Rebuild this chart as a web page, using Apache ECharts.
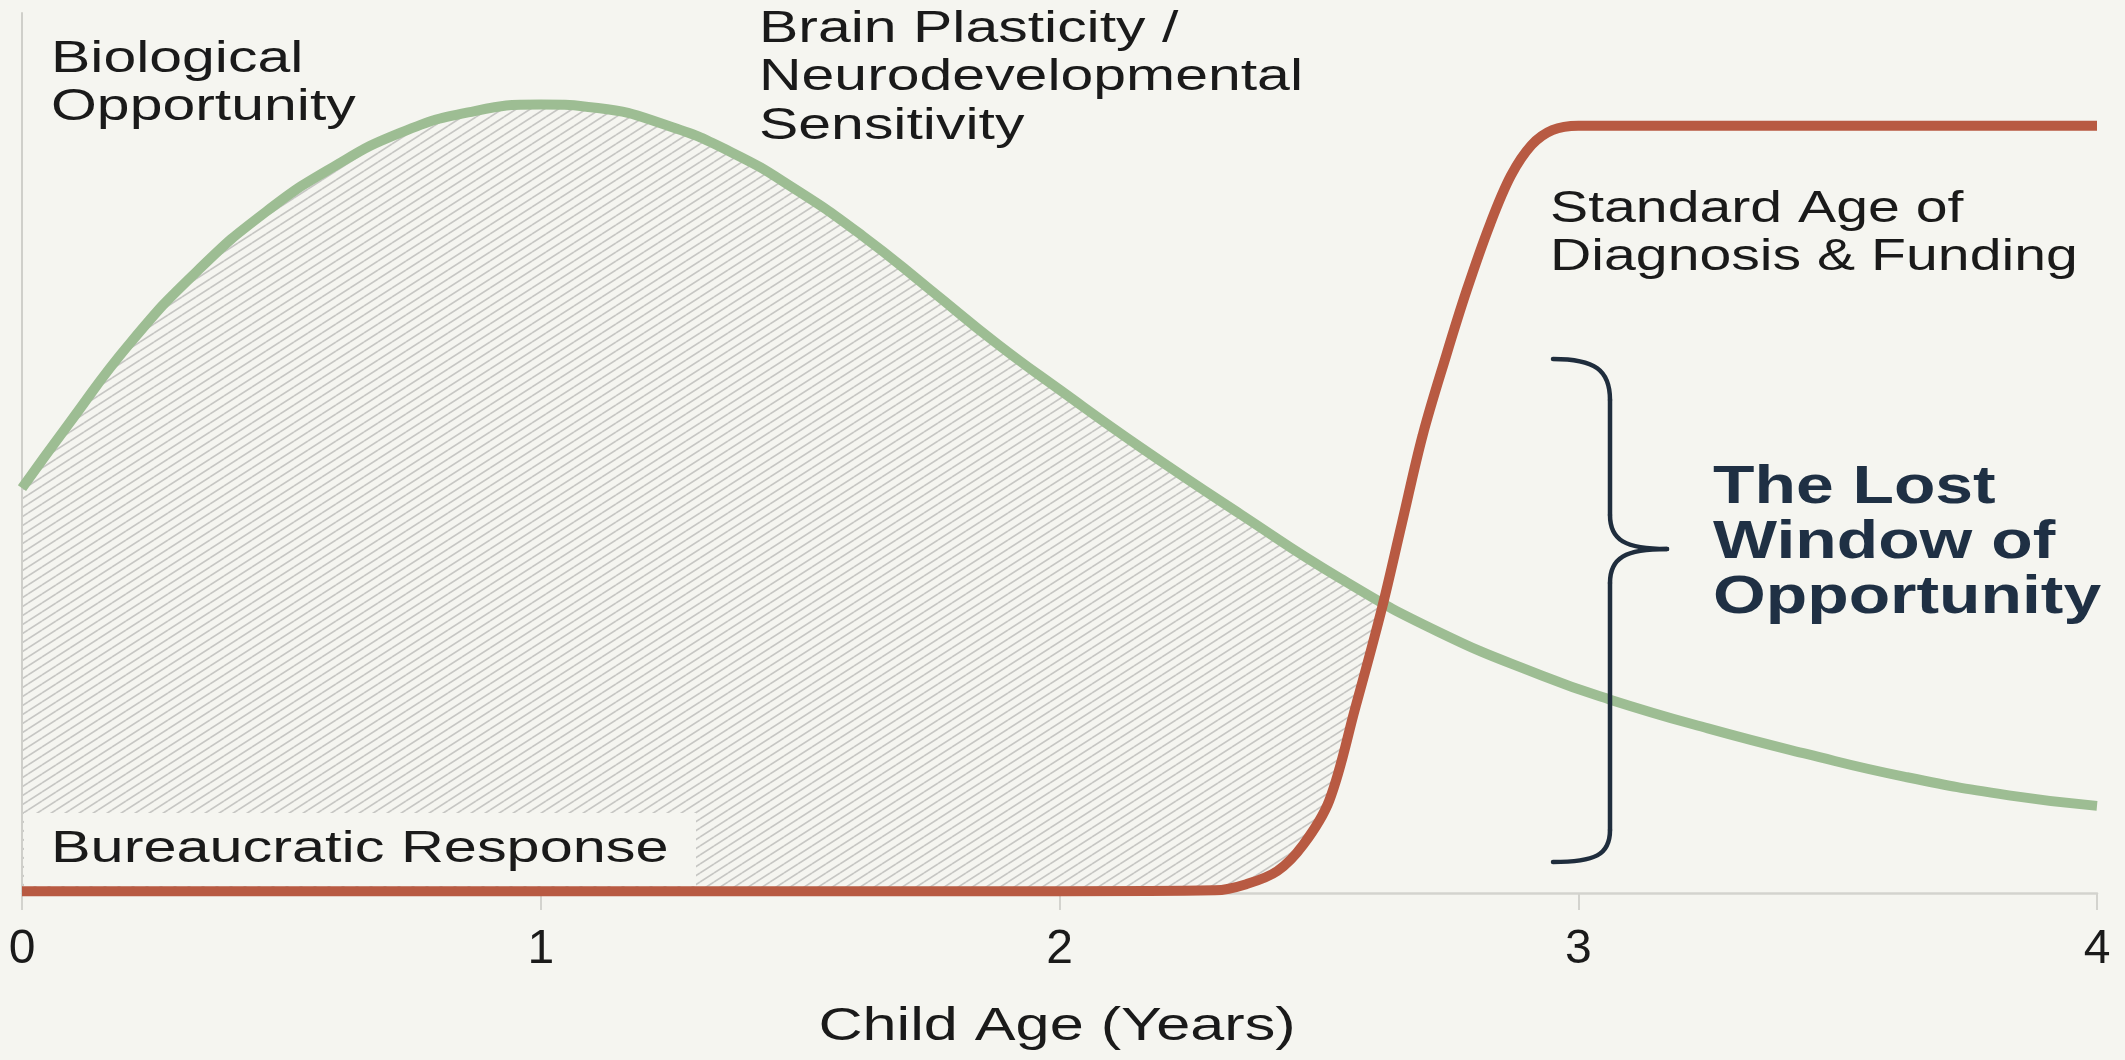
<!DOCTYPE html>
<html>
<head>
<meta charset="utf-8">
<script src="https://cdn.jsdelivr.net/npm/echarts@6.0.0/dist/echarts.min.js"></script>
<style>
  html, body { margin: 0; padding: 0; background: #f5f5f0; }
  #main { width: 2125px; height: 1060px; }
</style>
</head>
<body>
<div id="main"></div>
<script>
// brain plasticity curve (green)
var plastAge = [0, 0.09, 0.21, 0.34, 0.47, 0.6, 0.73, 0.86, 1.0, 1.11, 1.24, 1.37, 1.49, 1.62, 1.75, 1.88, 2.0, 2.16, 2.35, 2.54, 2.73, 2.93, 3.06, 3.25, 3.44, 3.63, 3.83, 4.0];
var plastVal = [46, 53.3, 62.6, 70.8, 77.4, 82.5, 86.4, 88.7, 89.6, 89.2, 87.3, 84.1, 80.0, 74.7, 68.6, 62.4, 57.2, 50.5, 43.0, 35.8, 29.7, 24.7, 22.0, 18.7, 15.8, 13.2, 11.1, 9.9];
// bureaucratic response / funding curve (red)
var fundAge = [0, 1, 2, 2.3, 2.36, 2.42, 2.47, 2.52, 2.57, 2.62, 2.66, 2.7, 2.745, 2.785, 2.83, 2.87, 2.91, 2.95, 3.0, 3.5, 4.0];
var fundVal = [0.2, 0.2, 0.2, 0.3, 1.0, 2.5, 5.5, 10.5, 21, 32, 42, 52, 61, 68.5, 76, 81.5, 85, 86.7, 87.2, 87.2, 87.2];
var ageTicks = [0, 1, 2, 3, 4];

var BG = '#f5f5f0';
var GREEN = '#9dbd93';
var RED = '#b85a42';
var NAVY = '#1f3044';
var FONT = 'Liberation Sans';
var SX = 1.31; // the picture's text is drawn wide

function pairs(xs, ys) {
  return xs.map(function (x, i) { return [x, ys[i]]; });
}

// diagonal hatch used under the plasticity curve
function hatch() {
  var w = 14, h = 9;
  var c = document.createElement('canvas');
  c.width = w; c.height = h;
  var ctx = c.getContext('2d');
  ctx.strokeStyle = '#c6c6c3';
  ctx.lineWidth = 1.6;
  [-h, 0, h].forEach(function (dy) {
    ctx.beginPath();
    ctx.moveTo(0, h + dy);
    ctx.lineTo(w, dy);
    ctx.stroke();
  });
  return c;
}

function label(x, baseline, lines, size, lh, weight, color, align, sx) {
  return {
    type: 'text', x: x, y: baseline - 0.3465 * size - lh / 2, scaleX: sx, z: 6,
    style: {
      text: lines.join('\n'), fontSize: size, fontFamily: FONT, fontWeight: weight,
      fill: color, lineHeight: lh, align: align, verticalAlign: 'top'
    }
  };
}

// curly brace next to "The Lost Window of Opportunity"
var braceStyle = { stroke: '#1f2d3d', lineWidth: 4.5, fill: null, lineCap: 'round' };
function curve(x1, y1, c1x, c1y, c2x, c2y, x2, y2) {
  return { type: 'bezierCurve', z: 6, style: braceStyle,
    shape: { x1: x1, y1: y1, cpx1: c1x, cpy1: c1y, cpx2: c2x, cpy2: c2y, x2: x2, y2: y2 } };
}
function seg(x1, y1, x2, y2) {
  return { type: 'line', z: 6, style: braceStyle, shape: { x1: x1, y1: y1, x2: x2, y2: y2 } };
}

var chart = echarts.init(document.getElementById('main'));
var green = pairs(plastAge, plastVal);
var red = pairs(fundAge, fundVal);

var option = {
  animation: false,
  backgroundColor: BG,
  grid: { left: 22, right: 28, top: 13, bottom: 167 },
  xAxis: {
    type: 'value', min: 0, max: 4, interval: 1, z: 3,
    axisLine: { show: true, lineStyle: { color: '#d3d3ce', width: 2.5 } },
    axisTick: { show: true, length: 17, lineStyle: { color: '#d3d3ce', width: 2 } },
    axisLabel: {
      margin: 33, fontSize: 48, fontFamily: FONT, color: '#1a1a1a',
      formatter: function (v) { return ageTicks.indexOf(v) >= 0 ? String(v) : ''; }
    },
    splitLine: { show: false }
  },
  yAxis: {
    type: 'value', min: 0, max: 100, z: 3,
    axisLine: { show: true, lineStyle: { color: '#cfcfca', width: 2 } },
    axisTick: { show: false }, axisLabel: { show: false }, splitLine: { show: false }
  },
  series: [
    { // hatch under green
      type: 'line', data: green, smooth: 0.5, showSymbol: false, z: 1,
      lineStyle: { width: 0 },
      areaStyle: { color: { image: hatch(), repeat: 'repeat' }, opacity: 1 }
    },
    { // clear the hatch beneath the red curve
      type: 'line', data: red, smooth: 0.35, showSymbol: false, z: 2,
      lineStyle: { width: 0 },
      areaStyle: { color: BG, opacity: 1 }
    },
    {
      name: 'Brain Plasticity', type: 'line', data: green, smooth: 0.5,
      showSymbol: false, z: 4, lineStyle: { color: GREEN, width: 10 }
    },
    {
      name: 'Bureaucratic Response', type: 'line', data: red, smooth: 0.35,
      showSymbol: false, z: 5, lineStyle: { color: RED, width: 10 }
    }
  ],
  graphic: [
    { type: 'rect', z: 3, shape: { x: 24, y: 813, width: 672, height: 73 }, style: { fill: BG } },
    label(51, 865, ['Bureaucratic Response'], 45, 50, 'normal', '#1a1a1a', 'left', 1.32),
    label(51, 75, ['Biological', 'Opportunity'], 45, 48, 'normal', '#1a1a1a', 'left', SX),
    label(759, 45, ['Brain Plasticity /', 'Neurodevelopmental', 'Sensitivity'], 45, 48.5, 'normal', '#1a1a1a', 'left', SX),
    label(1550, 225, ['Standard Age of', 'Diagnosis & Funding'], 44, 48, 'normal', '#1a1a1a', 'left', 1.3),
    label(1713, 507, ['The Lost', 'Window of', 'Opportunity'], 53, 55, 'bold', NAVY, 'left', 1.28),
    label(1057, 1043, ['Child Age (Years)'], 46, 50, 'normal', '#1a1a1a', 'center', 1.33),
    curve(1553, 359, 1595, 359, 1610, 370, 1610, 400),
    seg(1610, 400, 1610, 515),
    curve(1610, 515, 1610, 540, 1625, 549, 1667, 549),
    curve(1667, 549, 1625, 549, 1610, 558, 1610, 583),
    seg(1610, 583, 1610, 830),
    curve(1610, 830, 1610, 855, 1595, 862, 1553, 862)
  ]
};
chart.setOption(option);
</script>
</body>
</html>
